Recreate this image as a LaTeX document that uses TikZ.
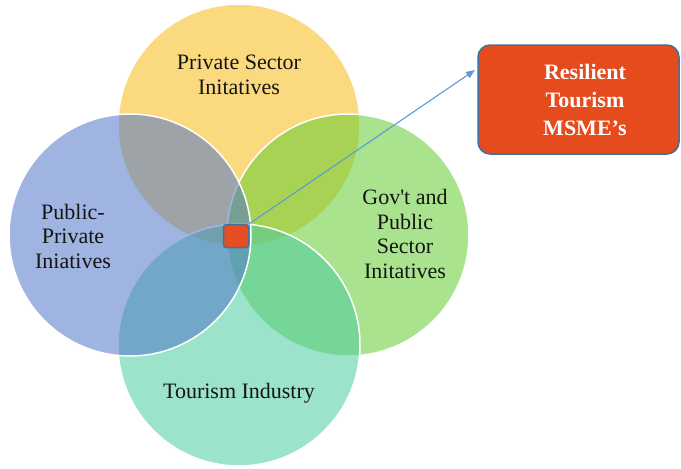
\documentclass[tikz,border=0pt]{standalone}
\usepackage{fontspec}
\setmainfont{Liberation Serif}
\usetikzlibrary{arrows.meta,calc}

\definecolor{vennyellow}{RGB}{246,186,22}
\definecolor{venngreen}{RGB}{99,204,48}
\definecolor{vennteal}{RGB}{75,204,161}
\definecolor{vennblue}{RGB}{81,119,199}
\definecolor{hubred}{RGB}{232,76,34}
\definecolor{boxred}{RGB}{230,75,30}
\definecolor{edgeblue}{RGB}{65,113,156}
\definecolor{arrowblue}{RGB}{91,155,213}
\definecolor{labelink}{RGB}{20,20,20}

\tikzset{
  venn/.style={circle, minimum size=242pt, inner sep=0pt,
    fill opacity=0.55, draw=white, line width=1.5pt},
  vennlabel/.style={align=center, text=labelink,
    font=\fontsize{22}{24.5}\selectfont},
  hub/.style={rectangle, rounded corners=3pt, minimum width=25pt,
    minimum height=23pt, inner sep=0pt, fill=hubred, draw=edgeblue,
    line width=1.5pt},
  outcome/.style={rectangle, rounded corners=12pt, minimum width=201pt,
    minimum height=109pt, inner sep=0pt, fill=boxred, draw=edgeblue,
    line width=1.5pt},
  outcometext/.style={align=center, text=white,
    font=\fontsize{22}{28}\selectfont\bfseries},
  link/.style={draw=arrowblue, line width=1.1pt,
    -{Triangle[length=9pt,width=7pt]}}
}

\begin{document}
\begin{tikzpicture}[x=1pt,y=-1pt]
  \useasboundingbox (0,0) rectangle (681,469);

  % overlapping circles, later ones laid over earlier ones
  \node[venn, fill=vennyellow] (private) at (239,125) {};
  \node[venn, fill=venngreen]  (gov)     at (348,235) {};
  \node[venn, fill=vennteal]   (tourism) at (239,345) {};
  \node[venn, fill=vennblue]   (ppp)     at (130,235) {};

  % circle captions
  \node[vennlabel] (privatetext) at (239,75)  {Private Sector\\Initatives};
  \node[vennlabel] (pppText)     at (73,236)  {Public-\\Private\\Iniatives};
  \node[vennlabel] (govtext)     at (405,234) {Gov\textquotesingle t and\\Public\\Sector\\Initatives};
  \node[vennlabel] (tourismtext) at (239,393) {Tourism Industry};

  % common core and the outcome it leads to
  \node[hub] (core) at (236,236) {};
  \node[outcome] (result) at (578.5,99.5) {};
  \node[outcometext] (resulttext) at (585,100) {Resilient\\Tourism\\MSME’s};

  \coordinate (tip) at (475,70);
  \draw[link] (core.north east) -- (tip);
\end{tikzpicture}
\end{document}
